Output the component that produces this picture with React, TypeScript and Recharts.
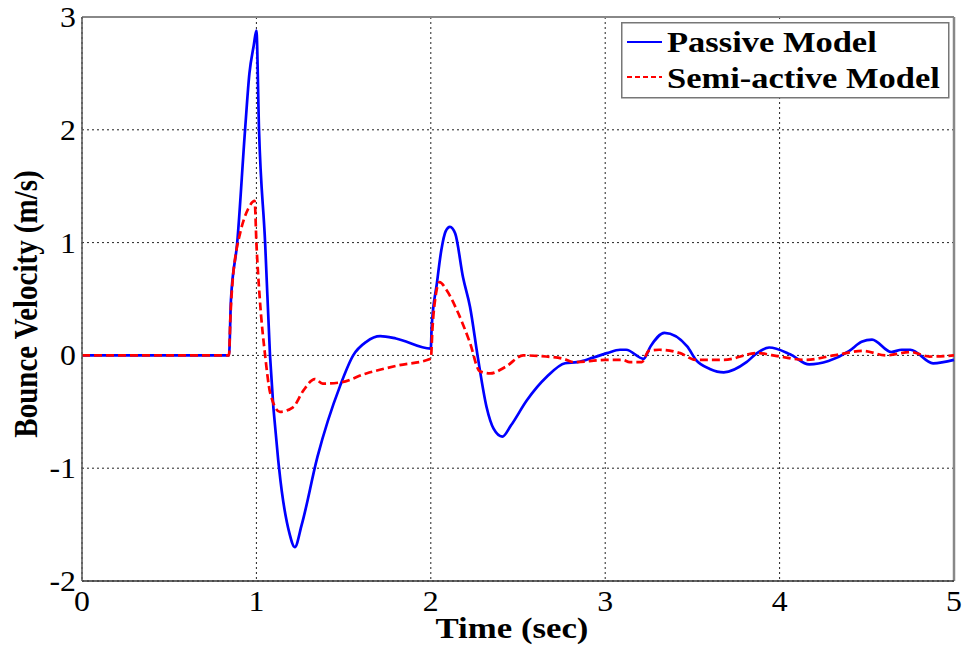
import React from "react";
import { LineChart, Line, XAxis, YAxis, CartesianGrid, ReferenceLine } from "recharts";

const passiveTime = [0, 0.843, 0.854, 0.89, 0.935, 0.96, 0.985, 1.0, 1.015, 1.05, 1.078, 1.13, 1.19, 1.22, 1.26, 1.35, 1.48, 1.555, 1.63, 1.71, 1.8, 2.0, 2.005, 2.035, 2.06, 2.085, 2.11, 2.14, 2.185, 2.225, 2.27, 2.32, 2.36, 2.41, 2.46, 2.55, 2.665, 2.77, 2.84, 2.93, 3.01, 3.085, 3.12, 3.22, 3.26, 3.34, 3.47, 3.52, 3.6, 3.68, 3.81, 3.87, 3.94, 4.06, 4.17, 4.28, 4.4, 4.47, 4.53, 4.64, 4.7, 4.75, 4.88, 5.0];
const passiveVelocity = [0, 0, 0.49, 1.0, 2.0, 2.5, 2.75, 2.88, 2.0, 1.0, 0, -1.0, -1.58, -1.7, -1.5, -0.9, -0.27, 0, 0.12, 0.17, 0.15, 0.06, 0.25, 0.64, 0.93, 1.1, 1.14, 1.08, 0.69, 0.43, -0.02, -0.46, -0.65, -0.72, -0.62, -0.4, -0.19, -0.07, -0.06, -0.02, 0.02, 0.05, 0.05, -0.03, 0.08, 0.2, 0.08, -0.04, -0.12, -0.15, -0.06, 0.02, 0.07, 0.01, -0.08, -0.05, 0.04, 0.12, 0.14, 0.03, 0.05, 0.05, -0.07, -0.04];

const semiTime = [0, 0.843, 0.85, 0.867, 0.877, 0.906, 0.953, 0.99, 1.0, 1.02, 1.05, 1.08, 1.135, 1.21, 1.27, 1.335, 1.38, 1.48, 1.63, 1.81, 2.0, 2.01, 2.03, 2.05, 2.09, 2.15, 2.225, 2.28, 2.34, 2.43, 2.53, 2.66, 2.76, 2.82, 3.0, 3.1, 3.14, 3.21, 3.25, 3.31, 3.43, 3.52, 3.68, 3.87, 4.0, 4.15, 4.31, 4.48, 4.61, 4.75, 4.86, 5.0];
const semiVelocity = [0, 0, 0.3, 0.72, 0.85, 1.08, 1.3, 1.37, 1.0, 0.49, 0, -0.34, -0.5, -0.46, -0.31, -0.21, -0.25, -0.24, -0.16, -0.09, -0.03, 0.25, 0.55, 0.65, 0.58, 0.4, 0.11, -0.14, -0.16, -0.1, 0, -0.01, -0.03, -0.06, -0.04, -0.04, -0.06, -0.06, 0.04, 0.05, 0.02, -0.04, -0.04, 0.02, -0.01, -0.04, 0, 0.04, 0, 0.03, -0.01, 0];

const xTicks = [0, 1, 2, 3, 4, 5];
const yTicks = [-2, -1, 0, 1, 2, 3];
const seriesNames = ["Passive Model", "Semi-active Model"];
const axisTitles = { x: "Time (sec)", y: "Bounce Velocity (m/s)" };

const passiveData = passiveTime.map((t, i) => ({ t, v: passiveVelocity[i] }));
const semiData = semiTime.map((t, i) => ({ t, v: semiVelocity[i] }));

const FONT = "'Liberation Serif', 'Times New Roman', serif";

const XTick = (props: any) => {
  const { x, y, payload } = props;
  return (
    <g transform={`translate(${x},${y})`}>
      <text transform="scale(1.06,1)" textAnchor="middle" y={30} fontFamily={FONT} fontSize={30} fill="#000">
        {payload.value}
      </text>
    </g>
  );
};

const YTick = (props: any) => {
  const { x, y, payload } = props;
  return (
    <g transform={`translate(${x - 6},${y})`}>
      <text transform="scale(1.06,1)" textAnchor="end" y={10} fontFamily={FONT} fontSize={30} fill="#000">
        {payload.value}
      </text>
    </g>
  );
};

const LegendBox = () => (
  <svg width={330} height={78} style={{ position: "absolute", left: 621, top: 22, display: "block" }}>
    <rect x={0.75} y={0.75} width={327} height={75} fill="#fff" stroke="#777" strokeWidth={1.5} />
    <line x1={6} y1={20} x2={41} y2={20} stroke="#0000ff" strokeWidth={2} />
    <line x1={6} y1={55} x2={41} y2={55} stroke="#ff0000" strokeWidth={2} strokeDasharray="5 3" />
    <g transform="translate(46,30) scale(1.15,1)">
      <text fontFamily={FONT} fontWeight="bold" fontSize={30} fill="#000">{seriesNames[0]}</text>
    </g>
    <g transform="translate(46,66) scale(1.15,1)">
      <text fontFamily={FONT} fontWeight="bold" fontSize={30} fill="#000">{seriesNames[1]}</text>
    </g>
  </svg>
);

const XLabel = () => (
  <g transform="translate(512,638) scale(1.16,1)">
    <text textAnchor="middle" fontFamily={FONT} fontWeight="bold" fontSize={30} fill="#000">{axisTitles.x}</text>
  </g>
);

const YLabel = () => (
  <g transform="translate(37,304) rotate(-90) scale(1,1.16)">
    <text textAnchor="middle" fontFamily={FONT} fontWeight="bold" fontSize={29} fill="#000">{axisTitles.y}</text>
  </g>
);

export default function App() {
  return (
    <div style={{ position: "absolute", left: 0, top: 0, width: 967, height: 651, background: "#fff" }}>
      <LineChart width={967} height={651} margin={{ top: 17, right: 13, bottom: 0, left: 0 }}>
        <CartesianGrid stroke="#222" strokeDasharray="2 3" strokeWidth={1} />
        <XAxis
          type="number"
          dataKey="t"
          domain={[0, 5]}
          ticks={xTicks}
          height={70}
          tickSize={0}
          tickMargin={0}
          tickLine={false}
          tick={<XTick />}
          axisLine={{ stroke: "#333", strokeWidth: 1.5 }}
          allowDuplicatedCategory={false}
          label={{ content: () => <XLabel /> }}
        />
        <YAxis
          type="number"
          domain={[-2, 3]}
          ticks={yTicks}
          width={82}
          tickSize={0}
          tickMargin={0}
          tickLine={false}
          tick={<YTick />}
          axisLine={{ stroke: "#555", strokeWidth: 1.5 }}
          label={{ content: () => <YLabel /> }}
        />
        <ReferenceLine y={3} stroke="#888" strokeWidth={2} />
        <ReferenceLine x={5} stroke="#888" strokeWidth={2.5} />
        <Line
          data={passiveData}
          dataKey="v"
          name={seriesNames[0]}
          type="monotone"
          stroke="#0000ff"
          strokeWidth={2.7}
          dot={false}
          isAnimationActive={false}
        />
        <Line
          data={semiData}
          dataKey="v"
          name={seriesNames[1]}
          type="monotone"
          stroke="#ff0000"
          strokeWidth={2.7}
          strokeDasharray="8 4"
          dot={false}
          isAnimationActive={false}
        />
      </LineChart>
      <LegendBox />
    </div>
  );
}
